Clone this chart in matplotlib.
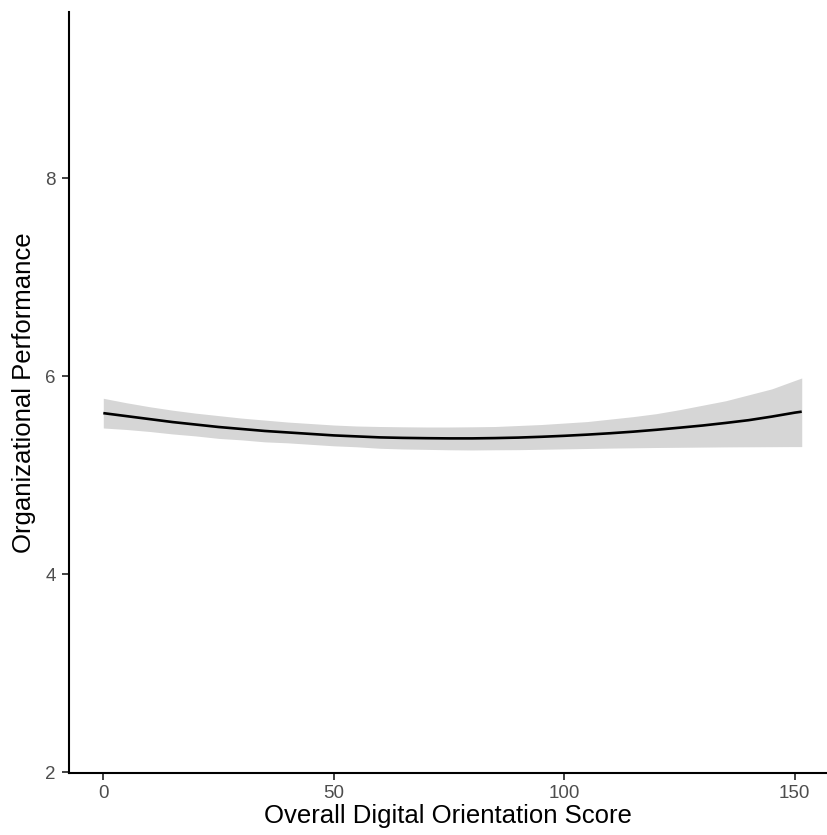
import matplotlib
matplotlib.use("Agg")
from matplotlib import pyplot as plt

# fitted curve and its confidence band
score = [0, 5, 10, 15, 20, 25, 30, 35, 40, 45, 50, 55, 60, 65, 70, 75,
         80, 85, 90, 95, 100, 105, 110, 115, 120, 125, 130, 135, 140, 145, 150, 151.5]
fit = [5.625, 5.595, 5.565, 5.535, 5.51, 5.485, 5.465, 5.445, 5.43, 5.415, 5.40, 5.39,
       5.38, 5.375, 5.372, 5.37, 5.37, 5.373, 5.378, 5.386, 5.396, 5.408, 5.422, 5.438,
       5.457, 5.478, 5.50, 5.526, 5.554, 5.59, 5.63, 5.64]
lower = [5.475, 5.46, 5.44, 5.415, 5.395, 5.37, 5.355, 5.335, 5.325, 5.31, 5.295, 5.285,
         5.27, 5.263, 5.259, 5.255, 5.253, 5.255, 5.256, 5.26, 5.264, 5.268, 5.272, 5.275,
         5.278, 5.28, 5.282, 5.284, 5.285, 5.286, 5.287, 5.287]
upper = [5.775, 5.73, 5.69, 5.655, 5.625, 5.60, 5.575, 5.555, 5.535, 5.52, 5.505, 5.495,
         5.49, 5.487, 5.485, 5.485, 5.487, 5.49, 5.50, 5.51, 5.525, 5.54, 5.565, 5.59,
         5.62, 5.66, 5.705, 5.75, 5.81, 5.87, 5.955, 5.98]

x_ticks = [0, 50, 100, 150]
y_ticks = [2, 4, 6, 8]

plt.rcParams["font.family"] = ["Liberation Sans", "DejaVu Sans"]

fig = plt.figure(figsize=(8.28, 8.35), dpi=100)
ax = fig.add_axes([68.5 / 828, 62.3 / 835, (828 - 68.5) / 828, 761 / 835])

ax.fill_between(score, lower, upper, color="#d6d6d6", linewidth=0)
ax.plot(score, fit, color="black", linewidth=1.9, solid_capstyle="butt")

ax.set_xlim(-7.55, 157.2)
ax.set_ylim(1.993, 9.68)
ax.set_xticks(x_ticks)
ax.set_yticks(y_ticks)

for side in ["top", "right"]:
    ax.spines[side].set_visible(False)
for side in ["left", "bottom"]:
    ax.spines[side].set_linewidth(1.5)
    ax.spines[side].set_color("black")

ax.tick_params(axis="both", length=5, width=1.3, color="#333333",
               labelcolor="#4d4d4d", labelsize=13.5, pad=4)

ax.set_xlabel("Overall Digital Orientation Score", fontsize=18.5, color="black", labelpad=1)
ax.set_ylabel("Organizational Performance", fontsize=18.5, color="black", labelpad=7)

fig.savefig("out.png", dpi=100)
